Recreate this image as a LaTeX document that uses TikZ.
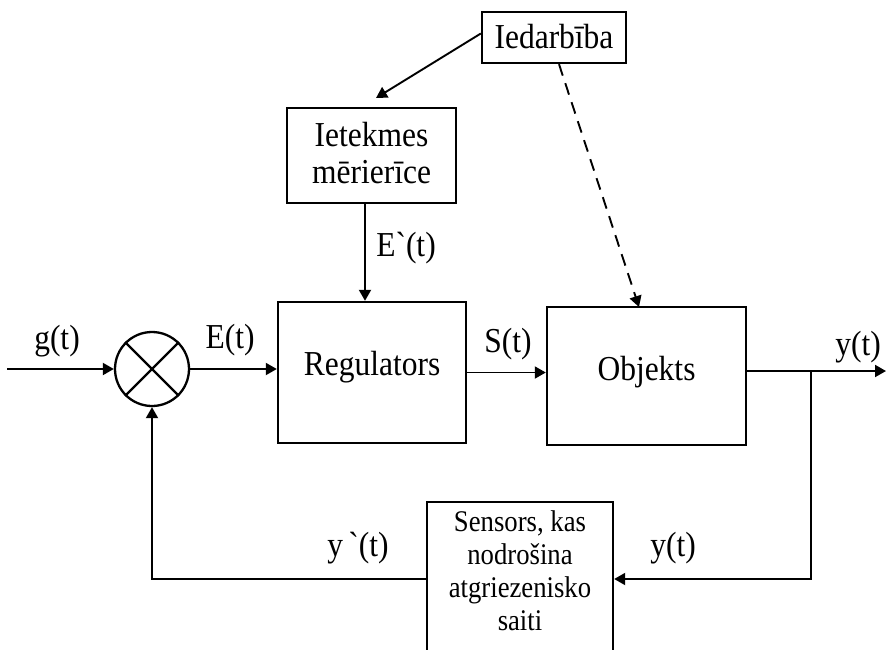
\documentclass[tikz,border=0pt]{standalone}
\usepackage{fontspec}
\newfontfamily\serif{Liberation Serif}
\usetikzlibrary{arrows.meta,calc}
\begin{document}
\begin{tikzpicture}[x=1pt,y=-1pt,
  box/.style={draw,line width=2.4pt,inner sep=0pt},
  txt/.style={inner sep=0pt,align=center,xscale=0.9,
    font=\serif\fontsize{35}{37}\selectfont},
  small/.style={inner sep=0pt,align=center,xscale=0.89,
    font=\serif\fontsize{30}{33}\selectfont},
  wire/.style={line width=1.9pt},
  arr/.style={wire,-{Triangle[length=11pt,width=12pt]}},
]
\clip (0,0) rectangle (887,649);

% blocks
\node[box,minimum width=144pt,minimum height=51pt] (ied) at (554,37.5) {};
\node[box,minimum width=169pt,minimum height=95pt] (iet) at (371.5,155.5) {};
\node[box,minimum width=188pt,minimum height=141pt] (reg) at (372,372.5) {};
\node[box,minimum width=199pt,minimum height=138pt] (obj) at (646.5,376) {};
\node[box,minimum width=186pt,minimum height=200pt] (sen) at (520,602) {};

% block captions
\node[txt] (iedtxt) at (554,37) {Iedarbība};
\node[txt] (iettxt) at (371.5,153) {Ietekmes\\mērierīce};
\node[txt] (regtxt) at (372,367) {Regulators};
\node[txt] (objtxt) at (646.5,372) {Objekts};
\node[small] (sentxt) at (520,571) {Sensors, kas\\nodrošina\\atgriezenisko\\saiti};

% summing junction
\node[draw,circle,line width=2.3pt,minimum size=74pt,inner sep=0pt] (sum) at (152,369) {};
\draw[line width=2.3pt] (sum.north east) -- (sum.south west)
                        (sum.north west) -- (sum.south east);

% forward path
\coordinate (in) at (7,369);
\draw[arr] (in) -- (sum.west);
\draw[arr] (sum.east) -- (sum.east -| reg.west);
\draw[arr] (reg.east) -- (reg.east -| obj.west);
\coordinate (yo) at (886,371);
\coordinate (br) at (811,371);
\draw[arr] (obj.east |- yo) -- (yo);

% feedback path
\coordinate (fb) at (0,579);
\draw[arr] (br) |- (fb -| sen.east);
\draw[arr] (fb -| sen.west) -| (sum.south);

% disturbance and its measurement
\coordinate (ev) at (365,0);
\draw[arr] (iet.south -| ev) -- (reg.north -| ev);
\coordinate (itip) at (376,98);
\draw[arr] ($(ied.west)+(0,-4)$) -- (itip);
\coordinate (dtip) at (639,307);
\draw[arr,dash pattern=on 12pt off 8pt] ($(ied.south)+(5,0)$) -- (dtip);

% signal labels
\node[txt] (lg)  at (57,341)  {g(t)};
\node[txt] (le)  at (230,340) {E(t)};
\node[txt] (ls)  at (508,344) {S(t)};
\node[txt] (ly)  at (858,347) {y(t)};
\node[txt] (lep) at (406,248) {E\textasciigrave(t)};
\node[txt] (lyp) at (358,548) {y\,\textasciigrave(t)};
\node[txt] (ly2) at (673,548) {y(t)};
\end{tikzpicture}
\end{document}
